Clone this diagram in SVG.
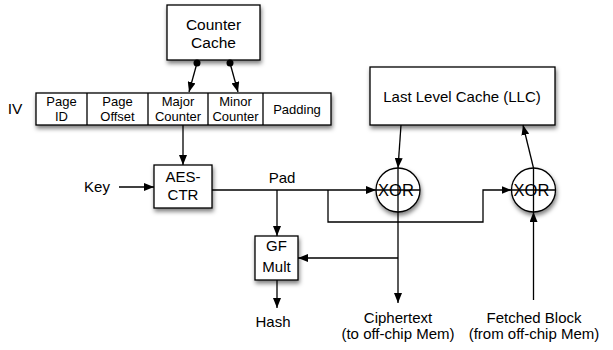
<svg xmlns="http://www.w3.org/2000/svg" width="613" height="350" viewBox="0 0 613 350">
<defs>
<filter id="sh" x="-20%" y="-20%" width="150%" height="160%">
<feDropShadow dx="1" dy="3" stdDeviation="2" flood-color="#000" flood-opacity="0.5"/>
</filter>
<marker id="ar" markerWidth="10" markerHeight="8" refX="10" refY="4" orient="auto" markerUnits="userSpaceOnUse">
<path d="M0,0 L10,4 L0,8 Z" fill="#000"/>
</marker>
<marker id="dot" markerWidth="8" markerHeight="8" refX="4" refY="4" markerUnits="userSpaceOnUse">
<circle cx="4" cy="4" r="3.5" fill="#000"/>
</marker>
</defs>
<style>
.box{fill:#fff;stroke:#000;stroke-width:1.3;}
.ln{fill:none;stroke:#000;stroke-width:1.3;}
.t{font-family:"Liberation Sans",Arial,sans-serif;font-size:15px;fill:#000;text-anchor:middle;}
.s{font-size:13px;}
.l{font-size:15.5px;}
.x{font-size:16.5px;}
</style>
<rect width="613" height="350" fill="#fff"/>
<g id="counter-cache">
<rect class="box" x="167" y="5" width="93" height="55" filter="url(#sh)"/>
<text class="t l" x="213.5" y="30">Counter</text>
<text class="t l" x="213.5" y="48">Cache</text>
</g>
<g id="iv">
<text class="t l" x="15" y="114">IV</text>
<rect class="box" x="36" y="93" width="295" height="32" filter="url(#sh)"/>
<path class="ln" d="M87,93V125M148,93V125M208,93V125M263,93V125"/>
<text class="t s" x="61.5" y="106">Page</text><text class="t s" x="61.5" y="121">ID</text>
<text class="t s" x="117.5" y="106">Page</text><text class="t s" x="117.5" y="121">Offset</text>
<text class="t s" x="178" y="106">Major</text><text class="t s" x="178" y="121">Counter</text>
<text class="t s" x="235.5" y="106">Minor</text><text class="t s" x="235.5" y="121">Counter</text>
<text class="t s" x="297" y="114">Padding</text>
</g>
<g id="aes-ctr">
<rect class="box" x="154" y="165" width="58" height="43" filter="url(#sh)"/>
<text class="t" x="183" y="182">AES-</text>
<text class="t" x="183" y="200">CTR</text>
</g>
<g id="gf-mult">
<rect class="box" x="255" y="236" width="43" height="44" filter="url(#sh)"/>
<text class="t" x="276.5" y="251">GF</text>
<text class="t" x="276.5" y="272">Mult</text>
</g>
<g id="llc">
<rect class="box" x="370" y="67" width="185" height="58" filter="url(#sh)"/>
<text class="t" x="462" y="102">Last Level Cache (LLC)</text>
</g>
<g id="xor1">
<circle class="box" cx="398" cy="190" r="22" filter="url(#sh)"/>
<text class="t x" x="396" y="196">XOR</text>
<path class="ln" d="M376,190H420M398,168V212"/>
</g>
<g id="xor2">
<circle class="box" cx="533.5" cy="190" r="22" filter="url(#sh)"/>
<text class="t x" x="531.5" y="196">XOR</text>
<path class="ln" d="M511.5,190H555.5M533.5,168V212"/>
</g>
<g id="labels">
<text class="t" x="97" y="192">Key</text>
<text class="t" x="282" y="183">Pad</text>
<text class="t" x="273" y="327">Hash</text>
<text class="t" x="398" y="323">Ciphertext</text>
<text class="t" x="398" y="339">(to off-chip Mem)</text>
<text class="t" x="534" y="323">Fetched Block</text>
<text class="t" x="534" y="339">(from off-chip Mem)</text>
</g>
<g id="connectors">
<line class="ln" x1="197" y1="63" x2="189" y2="92" marker-start="url(#dot)" marker-end="url(#ar)"/>
<line class="ln" x1="230" y1="63" x2="238" y2="92" marker-start="url(#dot)" marker-end="url(#ar)"/>
<line class="ln" x1="183" y1="125" x2="183" y2="165" marker-end="url(#ar)"/>
<line class="ln" x1="119" y1="187" x2="154" y2="187" marker-end="url(#ar)"/>
<line class="ln" x1="212" y1="190" x2="376" y2="190" marker-end="url(#ar)"/>
<line class="ln" x1="277" y1="190" x2="277" y2="236" marker-end="url(#ar)"/>
<path class="ln" d="M328,190V222H483V190H511.5" marker-end="url(#ar)"/>
<line class="ln" x1="398" y1="212" x2="398" y2="303" marker-end="url(#ar)"/>
<line class="ln" x1="398" y1="258" x2="298" y2="258" marker-end="url(#ar)"/>
<line class="ln" x1="277" y1="280" x2="277" y2="308" marker-end="url(#ar)"/>
<line class="ln" x1="401" y1="125" x2="398" y2="168" marker-end="url(#ar)"/>
<line class="ln" x1="533.5" y1="168" x2="523" y2="125" marker-end="url(#ar)"/>
<line class="ln" x1="533.5" y1="300" x2="533.5" y2="212" marker-end="url(#ar)"/>
</g>
</svg>
